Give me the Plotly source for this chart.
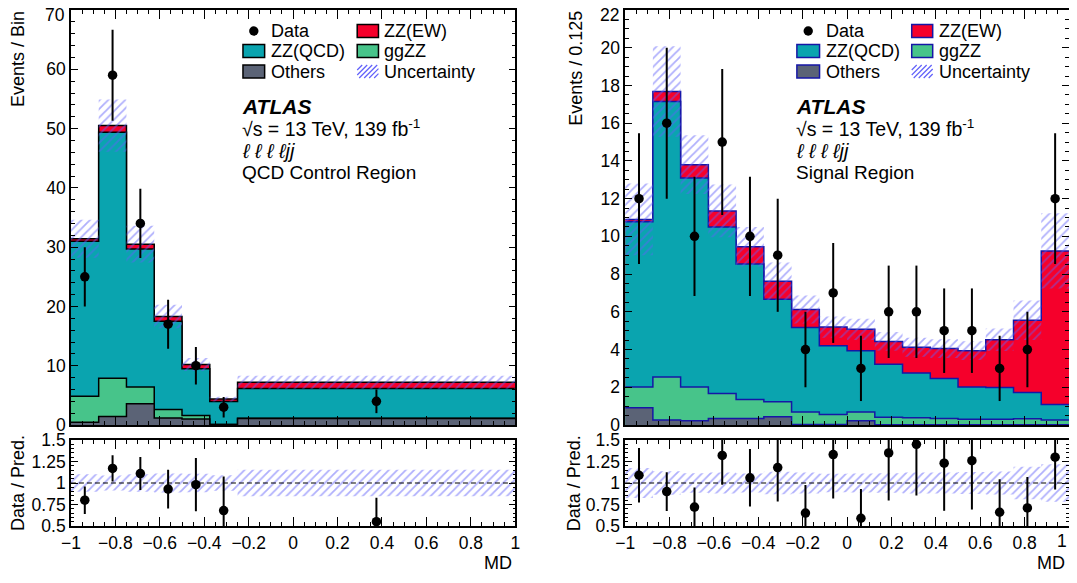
import plotly.graph_objects as go

# The page keeps the browser's default 8px body margin, so the figure is
# 16px smaller than the window and every position is shifted by 8px.
PAGE_W, PAGE_H = 1077, 583
OFF = 8
W, H = PAGE_W - 2 * OFF, PAGE_H - 2 * OFF
FONT = "Liberation Sans, Arial, Helvetica, sans-serif"

# ---------------- QCD Control Region (left panel) ----------------
edges_cr = [-1.0, -0.875, -0.75, -0.625, -0.5, -0.375, -0.25, 1.0]
others_cr = [0.45, 1.45, 3.6, 1.2, 1.0, 0.08, 1.1]
ggzz_cr = [4.42, 6.45, 2.8, 1.4, 0.6, 0.02, 0.05]
zzqcd_cr = [26.13, 41.5, 23.3, 14.9, 7.9, 3.87, 5.0]
zzew_cr = [0.4, 1.1, 0.8, 0.8, 0.7, 0.4, 1.05]
unc_cr = [3.2, 4.4, 3.1, 2.0, 1.1, 0.4, 1.1]
data_cr = [25, 59, 34, 17, 10, 3, 4]
data_err_cr = [5.0, 7.68, 5.83, 4.12, 3.16, 1.73, 2.0]
ratio_cr = [0.80, 1.17, 1.11, 0.93, 0.98, 0.68, 0.55]

# ---------------- Signal Region (right panel) ----------------
edges_sr = [-1.0, -0.875, -0.75, -0.625, -0.5, -0.375, -0.25, -0.125, 0.0,
            0.125, 0.25, 0.375, 0.5, 0.625, 0.75, 0.875, 1.0]
others_sr = [0.91, 0.26, 0.23, 0.35, 0.35, 0.44, 0.02, 0.02, 0.23, 0.01, 0.01, 0.01, 0.01, 0.01, 0.01, 0.01]
ggzz_sr = [1.11, 2.29, 1.79, 1.32, 1.0, 0.79, 0.67, 0.54, 0.46, 0.40, 0.38, 0.34, 0.29, 0.29, 0.32, 0.25]
zzqcd_sr = [8.75, 14.6, 11.08, 8.83, 7.18, 5.44, 4.48, 3.64, 3.25, 2.81, 2.37, 2.11, 1.72, 1.69, 1.39, 0.83]
zzew_sr = [0.13, 0.53, 0.7, 0.85, 0.92, 0.95, 0.95, 0.99, 1.13, 1.21, 1.36, 1.59, 1.92, 2.53, 3.83, 8.14]
unc_sr = [1.9, 2.4, 1.56, 1.4, 1.05, 1.0, 0.74, 0.56, 0.56, 0.5, 0.5, 0.5, 0.5, 0.6, 1.05, 2.0]
data_sr = [12, 16, 10, 15, 10, 9, 4, 7, 3, 6, 6, 5, 5, 3, 4, 12]
data_err_sr = [3.46, 4.0, 3.16, 3.87, 3.16, 3.0, 2.0, 2.65, 1.73, 2.45, 2.45, 2.24, 2.24, 1.73, 2.0, 3.46]
ratio_sr = [1.09, 0.90, 0.72, 1.32, 1.06, 1.18, 0.65, 1.33, 0.59, 1.35, 1.45, 1.23, 1.26, 0.66, 0.71, 1.30]

# tick labels
y_ticks_cr = [0, 10, 20, 30, 40, 50, 60, 70]
y_ticks_sr = [0, 2, 4, 6, 8, 10, 12, 14, 16, 18, 20, 22]
x_ticks = [-1.0, -0.8, -0.6, -0.4, -0.2, 0.0, 0.2, 0.4, 0.6, 0.8, 1.0]
x_labels = ["−1", "−0.8", "−0.6", "−0.4", "−0.2", "0", "0.2", "0.4", "0.6", "0.8", "1"]
r_ticks = [0.5, 0.75, 1.0, 1.25, 1.5]
r_labels = ["0.5", "0.75", "1", "1.25", "1.5"]

# ---------------- styling ----------------
C_EW = "#F5002B"
C_QCD = "#0AA4AF"
C_GG = "#47C48A"
C_OTH = "#5B6376"
C_HATCH = "#6060FA"
OUT_CR = "black"
OUT_SR = "#1616A6"
XS = W / (1070.5 - OFF)   # tiny horizontal squeeze so the right frame fits
TFS = 17.5


def px(x):
    return min(1.0, max(0.0, (x - OFF) * XS / W))


def py(y):
    return min(1.0, max(0.0, 1 - (y - OFF) / H))


fig = go.Figure()


def step(edges, vals):
    return list(edges), list(vals) + [vals[-1]]


PAT = dict(shape="/", fgcolor=C_HATCH, bgcolor="rgba(0,0,0,0)", size=6, solidity=0.3)


def band(xa, ya, edges, lo, hi):
    x, yl = step(edges, lo)
    _, yh = step(edges, hi)
    fig.add_trace(go.Scatter(x=x, y=yl, mode="lines", xaxis=xa, yaxis=ya,
                             line=dict(shape="hv", width=0), showlegend=False, hoverinfo="skip"))
    fig.add_trace(go.Scatter(x=x, y=yh, mode="lines", xaxis=xa, yaxis=ya,
                             line=dict(shape="hv", width=0), fill="tonexty",
                             fillcolor="rgba(0,0,0,0)", fillpattern=PAT,
                             showlegend=False, hoverinfo="skip"))


def add_panel(xa, ya, xr, yr, edges, others, gg, qcd, ew, unc, data, derr, ratio, outline):
    c_oth = list(others)
    c_gg = [a + b for a, b in zip(c_oth, gg)]
    c_qcd = [a + b for a, b in zip(c_gg, qcd)]
    c_tot = [a + b for a, b in zip(c_qcd, ew)]
    for vals, col in [(c_tot, C_EW), (c_qcd, C_QCD), (c_gg, C_GG), (c_oth, C_OTH)]:
        x, y = step(edges, vals)
        fig.add_trace(go.Scatter(x=x, y=y, mode="lines", xaxis=xa, yaxis=ya,
                                 line=dict(shape="hv", color=outline, width=1.5),
                                 fill="tozeroy", fillcolor=col,
                                 showlegend=False, hoverinfo="skip"))
    band(xa, ya, edges,
         [t - u for t, u in zip(c_tot, unc)],
         [t + u for t, u in zip(c_tot, unc)])
    centers = [(edges[i] + edges[i + 1]) / 2 for i in range(len(edges) - 1)]
    fig.add_trace(go.Scatter(x=centers, y=data, mode="markers", xaxis=xa, yaxis=ya,
                             marker=dict(color="black", size=9.5),
                             error_y=dict(type="data", array=derr, color="black", thickness=2, width=0),
                             showlegend=False, hoverinfo="skip"))
    # ratio panel
    band(xr, yr, edges,
         [1 - u / t for u, t in zip(unc, c_tot)],
         [1 + u / t for u, t in zip(unc, c_tot)])
    rerr = [e / t for e, t in zip(derr, c_tot)]
    fig.add_trace(go.Scatter(x=centers, y=ratio, mode="markers", xaxis=xr, yaxis=yr,
                             marker=dict(color="black", size=9.5),
                             error_y=dict(type="data", array=rerr, color="black", thickness=2, width=0),
                             showlegend=False, hoverinfo="skip"))


add_panel("x", "y", "x2", "y2", edges_cr, others_cr, ggzz_cr, zzqcd_cr, zzew_cr,
          unc_cr, data_cr, data_err_cr, ratio_cr, OUT_CR)
add_panel("x3", "y3", "x4", "y4", edges_sr, others_sr, ggzz_sr, zzqcd_sr, zzew_sr,
          unc_sr, data_sr, data_err_sr, ratio_sr, OUT_SR)

# ---------------- axes ----------------
tickfont = dict(family=FONT, size=TFS, color="black")
base = dict(showline=True, linecolor="black", linewidth=1.5, mirror="allticks",
            ticks="inside", tickcolor="black", tickwidth=1, showgrid=False,
            zeroline=False, tickfont=tickfont, fixedrange=True, automargin=False)

dom_L = [px(71), px(516)]
dom_R = [px(626), px(1070.5)]
dom_main = [py(425), py(10)]
dom_ratio = [py(526), py(440)]

xminor = dict(dtick=0.05, tick0=0, ticklen=4, ticks="inside", tickcolor="black")
xmain = dict(base, range=[-1, 1], tickmode="array", tickvals=x_ticks, ticklen=9,
             showticklabels=False, minor=xminor)
xrat_L = dict(base, range=[-1, 1], tickmode="array", tickvals=x_ticks, ticktext=x_labels,
              ticklen=9, minor=xminor)
# the last label of the right panel sits at the page edge; it is drawn as an annotation
xrat_R = dict(xrat_L, ticktext=x_labels[:-1] + [""])
yrat = dict(base, range=[0.5, 1.5], tickmode="array", tickvals=r_ticks, ticktext=r_labels,
            ticklen=7,
            minor=dict(dtick=0.05, tick0=0.5, ticklen=3, ticks="inside", tickcolor="black"))


def ymain(ticks, rng, minor_dtick):
    # the top label would be cut by the page edge; it is drawn as an annotation
    return dict(base, range=rng, tickmode="array", tickvals=ticks,
                ticktext=[str(t) for t in ticks[:-1]] + [""], ticklen=7,
                minor=dict(dtick=minor_dtick, tick0=0, ticklen=4, ticks="inside", tickcolor="black"))


fig.update_layout(
    xaxis=dict(xmain, domain=dom_L, anchor="y"),
    yaxis=dict(ymain(y_ticks_cr, [0, 70], 2), domain=dom_main, anchor="x"),
    xaxis2=dict(xrat_L, domain=dom_L, anchor="y2"),
    yaxis2=dict(yrat, domain=dom_ratio, anchor="x2"),
    xaxis3=dict(xmain, domain=dom_R, anchor="y3"),
    yaxis3=dict(ymain(y_ticks_sr, [0, 22], 0.5), domain=dom_main, anchor="x3"),
    xaxis4=dict(xrat_R, domain=dom_R, anchor="y4"),
    yaxis4=dict(yrat, domain=dom_ratio, anchor="x4"),
)

# ratio reference lines
shapes = []
for xr, yr in [("x2", "y2"), ("x4", "y4")]:
    shapes.append(dict(type="line", xref=xr + " domain", yref=yr, x0=0, x1=1, y0=1, y1=1,
                       line=dict(color="black", width=1.2, dash="5px,3px"), layer="above"))

annotations = []


def text(x, y, s, size=18, xanchor="left", yanchor="middle", angle=0):
    annotations.append(dict(x=px(x), y=py(y), xref="paper", yref="paper", text=s,
                            showarrow=False, xanchor=xanchor, yanchor=yanchor,
                            textangle=angle, font=dict(family=FONT, size=size, color="black")))


# edge tick labels (kept inside the page)
annotations.append(dict(x=px(67), xref="paper", xanchor="right", y=y_ticks_cr[-1], yref="y",
                        yanchor="middle", yshift=-4.5, text=str(y_ticks_cr[-1]), showarrow=False,
                        font=tickfont))
annotations.append(dict(x=px(622), xref="paper", xanchor="right", y=y_ticks_sr[-1], yref="y3",
                        yanchor="middle", yshift=-4.5, text=str(y_ticks_sr[-1]), showarrow=False,
                        font=tickfont))
annotations.append(dict(x=px(1070.5), xref="paper", xanchor="right", y=py(541), yref="paper",
                        yanchor="middle", text=x_labels[-1], showarrow=False, font=tickfont))


def box(x0, y0, x1, y1, fill, outline):
    shapes.append(dict(type="rect", xref="paper", yref="paper", x0=px(x0), x1=px(x1),
                       y0=py(y1), y1=py(y0), fillcolor=fill, line=dict(color=outline, width=1.5)))


def hatch_box(x0, y0, x1, y1):
    h = y1 - y0
    k = x0 - h
    while k < x1:
        tmin = max(0.0, (x0 - k) / h)
        tmax = min(1.0, (x1 - k) / h)
        if tmax > tmin:
            xa, ya = k + tmin * h, y1 - tmin * h
            xb, yb = k + tmax * h, y1 - tmax * h
            shapes.append(dict(type="line", xref="paper", yref="paper",
                               x0=px(xa), y0=py(ya), x1=px(xb), y1=py(yb),
                               line=dict(color=C_HATCH, width=1.2)))
        k += 5


def legend(c1x0, c1x1, c1t, c2x0, c2x1, c2t, outline):
    rows = [31, 51, 71.5]
    cx = (c1x0 + c1x1) / 2
    shapes.append(dict(type="circle", xref="paper", yref="paper", fillcolor="black",
                       line=dict(color="black", width=0),
                       x0=px(cx - 4.7), x1=px(cx + 4.7), y0=py(rows[0] + 4.7), y1=py(rows[0] - 4.7)))
    text(c1t, rows[0], "Data")
    box(c2x0, rows[0] - 6.5, c2x1, rows[0] + 6.5, C_EW, outline)
    text(c2t, rows[0], "ZZ(EW)")
    box(c1x0, rows[1] - 6.5, c1x1, rows[1] + 6.5, C_QCD, outline)
    text(c1t, rows[1], "ZZ(QCD)")
    box(c2x0, rows[1] - 6.5, c2x1, rows[1] + 6.5, C_GG, outline)
    text(c2t, rows[1], "ggZZ")
    box(c1x0, rows[2] - 6.5, c1x1, rows[2] + 6.5, C_OTH, outline)
    text(c1t, rows[2], "Others")
    hatch_box(c2x0, rows[2] - 6.5, c2x1, rows[2] + 6.5)
    text(c2t, rows[2], "Uncertainty")


def atlas_block(x, region):
    text(x, 106, "<b><i>ATLAS</i></b>", size=21)
    text(x, 128, "√s = 13 TeV, 139 fb<sup>-1</sup>", size=19.5)
    text(x, 151, "<i>ℓ ℓ ℓ ℓjj</i>", size=20)
    text(x, 173, region, size=19)


legend(243.3, 265, 269, 357.7, 379, 382.7, OUT_CR)
legend(798, 820.7, 825, 913, 934, 938, OUT_SR)
atlas_block(240, "QCD Control Region")
atlas_block(795, "Signal Region")

# axis titles
text(18, 9, "Events / Bin", xanchor="center", yanchor="top", angle=-90)
text(18, 483, "Data / Pred.", xanchor="center", yanchor="middle", angle=-90)
text(577, 9, "Events / 0.125", xanchor="center", yanchor="top", angle=-90)
text(575, 483, "Data / Pred.", xanchor="center", yanchor="middle", angle=-90)
text(515, 575.5, "MD", xanchor="right", yanchor="bottom")
text(1068, 575.5, "MD", xanchor="right", yanchor="bottom")

fig.update_layout(width=W, height=H, margin=dict(l=0, r=0, t=0, b=0, autoexpand=False),
                  paper_bgcolor="white", plot_bgcolor="white",
                  shapes=shapes, annotations=annotations, showlegend=False,
                  font=dict(family=FONT, size=17, color="black"))

fig.write_html("out.html", config={"displayModeBar": False})
